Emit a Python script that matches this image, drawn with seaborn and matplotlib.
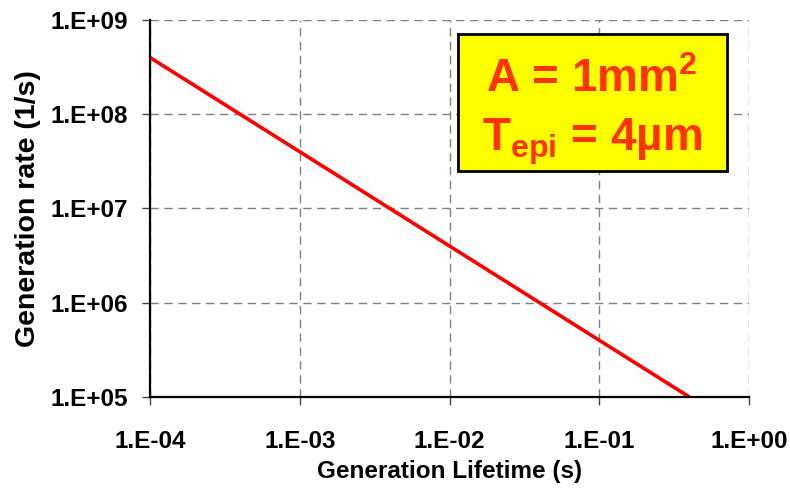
import matplotlib
matplotlib.use("Agg")
import matplotlib.pyplot as plt
import matplotlib.ticker as mticker
from matplotlib.patches import Rectangle
import seaborn as sns
import pandas as pd
import numpy as np

# data (straight line on log-log axes)
lifetime = [1e-4, 0.4]
gen_rate = [4e8, 1e5]

x_ticks = [1e-4, 1e-3, 1e-2, 1e-1, 1e0]
y_ticks = [1e5, 1e6, 1e7, 1e8, 1e9]

box_line1 = r"A = 1mm$^2$"
box_line2 = "$\\mathrm{T_{epi}}$ = 4\u00b5m"

sns.set_style("ticks")
plt.rcParams["font.family"] = ["Liberation Sans", "DejaVu Sans"]
plt.rcParams["font.weight"] = "bold"
plt.rcParams["axes.labelcolor"] = "black"
plt.rcParams["text.color"] = "black"
plt.rcParams["mathtext.fontset"] = "custom"
plt.rcParams["mathtext.rm"] = "Liberation Sans:bold"
plt.rcParams["mathtext.it"] = "Liberation Sans:bold"
plt.rcParams["mathtext.bf"] = "Liberation Sans:bold"

df = pd.DataFrame({"Generation Lifetime (s)": lifetime,
                   "Generation rate (1/s)": gen_rate})

fig = plt.figure(figsize=(7.9, 4.88), dpi=100)
ax = fig.add_axes([150 / 790, 91 / 488, 599 / 790, 377 / 488])

sns.lineplot(data=df, x="Generation Lifetime (s)", y="Generation rate (1/s)",
             color="#ff0000", linewidth=2.6, ax=ax)

ax.set_xscale("log")
ax.set_yscale("log")
ax.set_xlim(x_ticks[0], x_ticks[-1])
ax.set_ylim(y_ticks[0], y_ticks[-1])
ax.set_xticks(x_ticks)
ax.set_yticks(y_ticks)
ax.xaxis.set_minor_locator(mticker.NullLocator())
ax.yaxis.set_minor_locator(mticker.NullLocator())

fmt = mticker.FuncFormatter(lambda v, p: "1.E{:+03d}".format(int(round(np.log10(v)))))
ax.xaxis.set_major_formatter(fmt)
ax.yaxis.set_major_formatter(fmt)

ax.tick_params(axis="both", which="major", direction="out", length=6, width=1,
               color="#444444", labelsize=17.5, labelcolor="black")
ax.tick_params(axis="x", pad=18)
ax.tick_params(axis="y", pad=9.5)
for lab in ax.get_xticklabels() + ax.get_yticklabels():
    lab.set_fontweight("bold")

ax.set_xlabel("Generation Lifetime (s)", fontsize=17.5, fontweight="bold",
              color="black", labelpad=5)
ax.set_ylabel("Generation rate (1/s)", fontsize=20.5, fontweight="bold",
              color="black", labelpad=7)

ax.grid(True, which="major", color="#808080", linestyle=(0, (6, 4)), linewidth=1)
ax.set_axisbelow(True)
for side in ["top", "right"]:
    ax.spines[side].set_visible(False)
for side in ["left", "bottom"]:
    ax.spines[side].set_color("black")
    ax.spines[side].set_linewidth(1.6)

# annotation box
ax.add_patch(Rectangle((0.514, 0.599), 0.449, 0.364, transform=ax.transAxes,
                       facecolor="#ffff00", edgecolor="black", linewidth=2, zorder=5))
ax.text(0.738, 0.809, box_line1, transform=ax.transAxes, ha="center", va="baseline",
        fontsize=33, fontweight="bold", color="#ff3300", zorder=6)
ax.text(0.738, 0.655, box_line2, transform=ax.transAxes, ha="center", va="baseline",
        fontsize=33, fontweight="bold", color="#ff3300", zorder=6)

fig.savefig("out.png", dpi=100)
